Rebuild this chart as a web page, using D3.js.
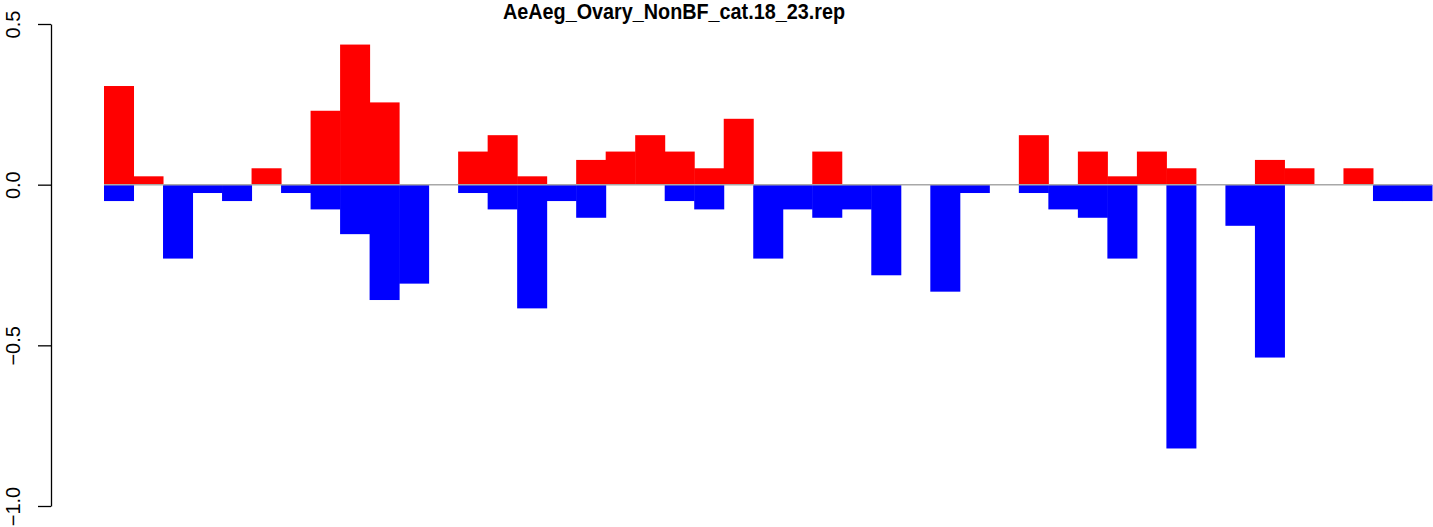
<!DOCTYPE html>
<html>
<head>
<meta charset="utf-8">
<script src="https://cdn.jsdelivr.net/npm/d3@7"></script>
<style>
body { margin: 0; background: #fff; }
</style>
</head>
<body>
<script>
(function(){
'use strict';

var title = 'AeAeg_Ovary_NonBF_cat.18_23.rep';
var categories = d3.range(1, 46);
var posValues = [0.307, 0.026, 0, 0, 0, 0.051, 0, 0.23, 0.436, 0.256,
				0, 0, 0.103, 0.154, 0.026, 0, 0.077, 0.103, 0.154, 0.103,
				0.051, 0.205, 0, 0, 0.103, 0, 0, 0, 0, 0,
				0, 0.154, 0, 0.103, 0.026, 0.103, 0.051, 0, 0, 0.077,
				0.051, 0, 0.051, 0, 0];
var negValues = [-0.051, 0, -0.23, -0.026, -0.051, 0, -0.026, -0.077, -0.154, -0.359,
				-0.308, 0, -0.026, -0.077, -0.385, -0.051, -0.103, 0, 0, -0.051,
				-0.077, 0, -0.23, -0.077, -0.103, -0.077, -0.282, 0, -0.333, -0.026,
				0, -0.026, -0.077, -0.103, -0.23, 0, -0.821, 0, -0.128, -0.538,
				0, 0, 0, -0.051, -0.051];
var yTicks = [-1, -0.5, 0, 0.5];

var width = 1433;
var height = 527;
var svg = d3.select('body').append('svg')
			.attr('width', width)
			.attr('height', height);

var x = d3.scaleBand().domain(categories).range([104, 1432]).padding(0);
var y = d3.scaleLinear().domain([-1, 0.5]).range([506, 24]);

// red bars above zero
svg.selectAll('rect.pos')
	.data(categories.filter(function(d, i){ return posValues[i] > 0; }))
	.enter().append('rect')
	.attr('class', 'pos')
	.attr('x', function(d){ return x(d); })
	.attr('width', x.bandwidth() + 0.5)
	.attr('y', function(d){ return y(posValues[d - 1]); })
	.attr('height', function(d){ return y(0) - y(posValues[d - 1]); })
	.attr('fill', '#ff0000');

// blue bars below zero
svg.selectAll('rect.neg')
	.data(categories.filter(function(d, i){ return negValues[i] < 0; }))
	.enter().append('rect')
	.attr('class', 'neg')
	.attr('x', function(d){ return x(d); })
	.attr('width', x.bandwidth() + 0.5)
	.attr('y', y(0))
	.attr('height', function(d){ return y(negValues[d - 1]) - y(0); })
	.attr('fill', '#0000ff');

svg.append('line')
	.attr('x1', x.range()[0]).attr('x2', x.range()[1])
	.attr('y1', y(0)).attr('y2', y(0))
	.attr('stroke', '#a8a8a8')
	.attr('stroke-width', 1.5);

var axis = svg.append('g')
	.attr('transform', 'translate(51,0)')
	.call(d3.axisLeft(y).tickValues(yTicks).tickSize(13).tickSizeOuter(0).tickFormat(d3.format('.1f')));

axis.select('.domain').attr('stroke', '#000').attr('stroke-width', 1.3);
axis.selectAll('.tick line').attr('stroke', '#000').attr('stroke-width', 1.3);
axis.selectAll('.tick text')
	.attr('x', null).attr('dy', null)
	.attr('transform', 'translate(-31,0) rotate(-90)')
	.attr('text-anchor', 'middle')
	.attr('fill', '#000')
	.style('font-family', '"Liberation Sans", Arial, sans-serif')
	.style('font-size', '20px');

svg.append('text')
	.attr('x', 674)
	.attr('y', 19)
	.attr('text-anchor', 'middle')
	.attr('textLength', 342)
	.attr('lengthAdjust', 'spacingAndGlyphs')
	.style('font-family', '"Liberation Sans", Arial, sans-serif')
	.style('font-weight', 'bold')
	.style('font-size', '22px')
	.text(title);

})();
</script>
</body>
</html>
